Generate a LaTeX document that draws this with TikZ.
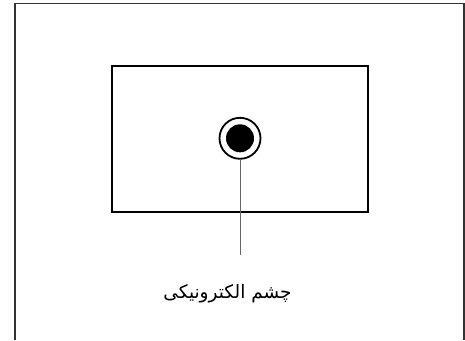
\documentclass[tikz,border=0pt]{standalone}
\usepackage{fontspec}
\TeXXeTstate=1
\newfontfamily\arabicfont[Script=Arabic]{DejaVu Sans}
\begin{document}
\begin{tikzpicture}[x=1pt,y=-1pt,
  framestyle/.style={draw=black!80,line width=1.5pt},
  boxstyle/.style={draw=black,line width=2.2pt},
  leader/.style={draw=black!60,line width=0.9pt},
  lbl/.style={font=\arabicfont\fontsize{18.5}{20}\selectfont,inner sep=0pt}]
\useasboundingbox (0,0) rectangle (465,340);
\fill[white] (0,0) rectangle (465,340);
\draw[framestyle] (15,340) -- (15,3.5) -- (464,3.5) -- (464,340);
\node[boxstyle,minimum width=256pt,minimum height=146pt,inner sep=0pt] (box) at (240,139) {};
\node[circle,draw=black,line width=1.8pt,minimum size=41pt,inner sep=0pt] (ring) at (240,138.3) {};
\node[circle,fill=black,minimum size=28pt,inner sep=0pt] (eye) at (240,138.3) {};
\coordinate (tip) at (240,255);
\draw[leader] (ring.south) -- (tip);
\node[lbl] (label) at (227.5,294) {\beginR چشم الکترونیکی\endR};
\end{tikzpicture}
\end{document}
